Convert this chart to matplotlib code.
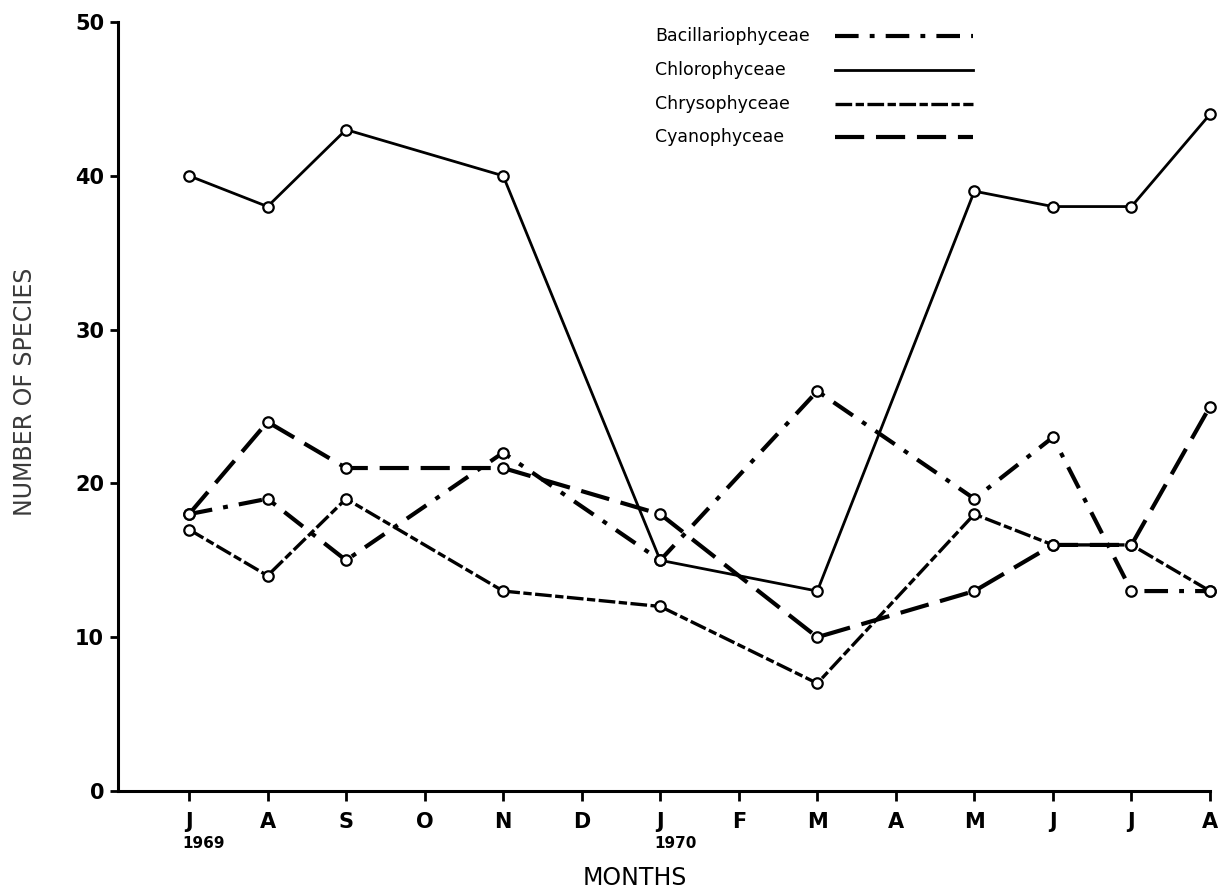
import matplotlib
matplotlib.use("Agg")
import matplotlib.pyplot as plt
from matplotlib.lines import Line2D

plt.rcParams['font.family'] = ['DejaVu Sans']
plt.rcParams['lines.scale_dashes'] = False

# Months from June 1969 to August 1970
month_labels = ['J', 'A', 'S', 'O', 'N', 'D', 'J', 'F', 'M', 'A', 'M', 'J', 'J', 'A']
year_labels = {0: '1969', 6: '1970'}
sample_months = [0, 1, 2, 4, 6, 8, 10, 11, 12, 13]

bacillariophyceae = [18, 19, 15, 22, 15, 26, 19, 23, 13, 13]
chlorophyceae = [40, 38, 43, 40, 15, 13, 39, 38, 38, 44]
chrysophyceae = [17, 14, 19, 13, 12, 7, 18, 16, 16, 13]
cyanophyceae = [18, 24, 21, 21, 18, 10, 13, 16, 16, 25]

styles = {
    'Bacillariophyceae': dict(lw=3.0, dashes=(17, 8, 3.5, 8)),
    'Chlorophyceae': dict(lw=2.0, dashes=None),
    'Chrysophyceae': dict(lw=2.4, dashes=(12, 2.5, 6, 2.5)),
    'Cyanophyceae': dict(lw=3.0, dashes=(21, 8.5)),
}
series = {
    'Bacillariophyceae': bacillariophyceae,
    'Chlorophyceae': chlorophyceae,
    'Chrysophyceae': chrysophyceae,
    'Cyanophyceae': cyanophyceae,
}

W, H = 1226, 891
fig = plt.figure(figsize=(W / 100, H / 100), dpi=100)
ax = fig.add_axes([118 / W, 100 / H, (1210 - 118) / W, (791 - 22) / H])

for name, vals in series.items():
    st = styles[name]
    line, = ax.plot(sample_months, vals, color='black', lw=st['lw'],
                    marker='o', markersize=7.5, markerfacecolor='white',
                    markeredgecolor='black', markeredgewidth=1.6,
                    dash_capstyle='butt', clip_on=False, zorder=3)
    if st['dashes']:
        line.set_dashes(st['dashes'])

ax.set_xlim(-0.904, 13)
ax.set_ylim(0, 50)

for side in ('top', 'right'):
    ax.spines[side].set_visible(False)
for side in ('left', 'bottom'):
    ax.spines[side].set_linewidth(2.2)

ax.set_xticks(range(len(month_labels)))
ax.set_xticklabels(month_labels, fontsize=15, fontweight='bold')
ax.set_yticks(range(0, 51, 10))
ax.set_yticklabels([str(v) for v in range(0, 51, 10)], fontsize=15, fontweight='bold')
ax.tick_params(axis='x', direction='out', length=7, width=2, pad=8)
ax.tick_params(axis='y', direction='out', length=6, width=2, pad=4)

for idx, yr in year_labels.items():
    ax.text(idx - 0.08, -0.068, yr, transform=ax.get_xaxis_transform(),
            ha='left', va='center', fontsize=11, fontweight='bold')

ax.set_xlabel('MONTHS', fontsize=17)
ax.xaxis.set_label_coords(0.473, -0.097)
ax.set_ylabel('NUMBER OF SPECIES', fontsize=17, color='#3a3a3a')
ax.yaxis.set_label_coords(-0.074, 0.519)

# key in the upper right: name on the left, line sample on the right
row_y = [36, 70, 104, 137]
for (name, st), y in zip(styles.items(), row_y):
    fy = 1 - y / H
    fig.text(655 / W, fy, name, ha='left', va='center', fontsize=12.5)
    key = Line2D([835 / W, 973 / W], [fy, fy], transform=fig.transFigure,
                 color='black', lw=st['lw'], dash_capstyle='butt')
    if st['dashes']:
        key.set_dashes(st['dashes'])
    fig.add_artist(key)

fig.savefig('out.png', dpi=100, facecolor='white')
